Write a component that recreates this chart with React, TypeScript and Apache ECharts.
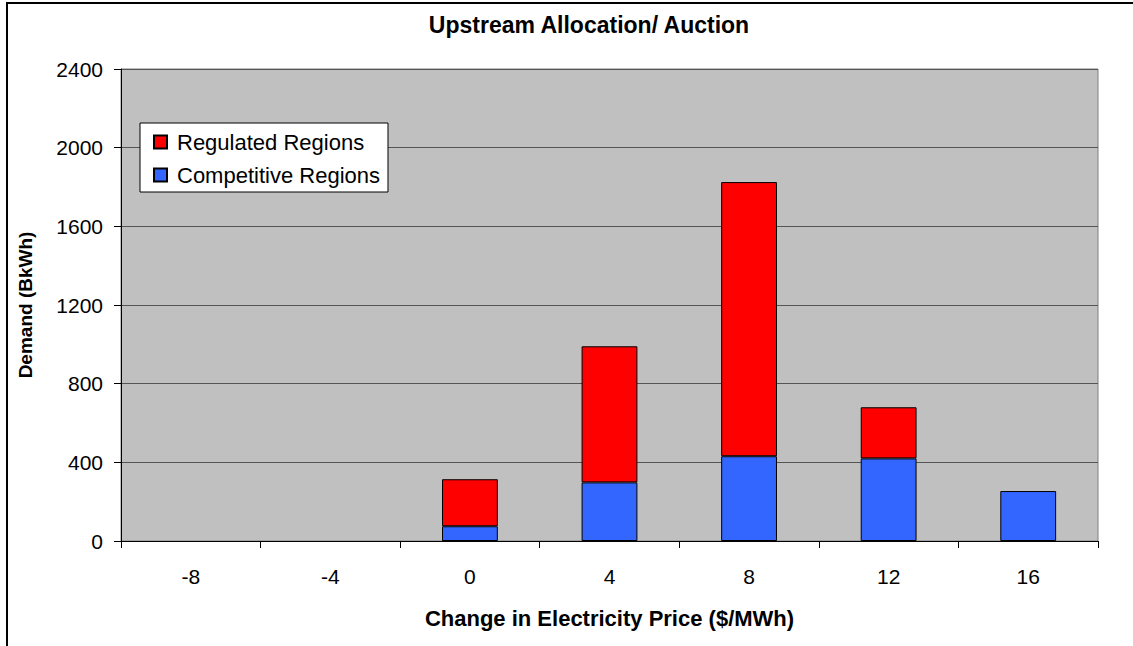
import React, { useEffect, useRef } from "react";
import * as echarts from "echarts";

const categories = ["-8", "-4", "0", "4", "8", "12", "16"];
const competitive = [null, null, 75, 298, 431, 420, 254];
const regulated = [null, null, 239, 692, 1394, 260, null];
const yTicks = { min: 0, max: 2400, interval: 400 };

const FONT = "'Liberation Sans', Arial, sans-serif";

export default function App() {
  const ref = useRef<HTMLDivElement>(null);
  useEffect(() => {
    if (!ref.current) return;
    const chart = echarts.init(ref.current, null, { renderer: "svg" });
    chart.setOption({
      animation: false,
      backgroundColor: "#ffffff",
      textStyle: { fontFamily: FONT },
      title: {
        text: "Upstream Allocation/ Auction",
        left: 589,
        top: 13,
        textAlign: "center",
        padding: 0,
        textStyle: { fontFamily: FONT, fontSize: 23, fontWeight: "bold", color: "#000" },
      },
      graphic: [
        {
          type: "rect",
          shape: { x: 7, y: 3, width: 1130, height: 700 },
          style: { fill: "none", stroke: "#000", lineWidth: 2 },
          silent: true,
        },
      ],
      legend: {
        data: ["Regulated Regions", "Competitive Regions"],
        orient: "vertical",
        left: 140,
        top: 123,
        backgroundColor: "#ffffff",
        borderColor: "#000000",
        borderWidth: 1,
        borderRadius: 0,
        padding: [8, 8, 6, 13],
        itemGap: 11,
        itemWidth: 13,
        itemHeight: 13,
        icon: "rect",
        textStyle: { fontFamily: FONT, fontSize: 22, color: "#000", padding: [0, 0, 0, 5] },
      },
      grid: {
        left: 121,
        top: 69,
        width: 977,
        height: 472,
        show: true,
        backgroundColor: "#C0C0C0",
        borderColor: "#808080",
        borderWidth: 1,
        containLabel: false,
      },
      xAxis: {
        type: "category",
        data: categories,
        boundaryGap: true,
        name: "Change in Electricity Price ($/MWh)",
        nameLocation: "middle",
        nameGap: 66,
        nameTextStyle: { fontFamily: FONT, fontSize: 22, fontWeight: "bold", color: "#000" },
        axisLine: { show: true, lineStyle: { color: "#000", width: 1 } },
        axisTick: { show: true, length: 7, inside: false, lineStyle: { color: "#000" } },
        axisLabel: { margin: 25, fontFamily: FONT, fontSize: 21, color: "#000" },
        splitLine: { show: false },
      },
      yAxis: {
        type: "value",
        min: yTicks.min,
        max: yTicks.max,
        interval: yTicks.interval,
        name: "Demand (BkWh)",
        nameLocation: "middle",
        nameGap: 86,
        nameTextStyle: { fontFamily: FONT, fontSize: 19, fontWeight: "bold", color: "#000" },
        axisLine: { show: true, lineStyle: { color: "#000", width: 1 } },
        axisTick: { show: true, length: 7, inside: false, lineStyle: { color: "#000" } },
        axisLabel: {
          margin: 18,
          fontFamily: FONT,
          fontSize: 21,
          color: "#000",
          formatter: (v: number) => String(v),
        },
        splitLine: { show: true, lineStyle: { color: "#555555", width: 1 } },
      },
      series: [
        {
          name: "Competitive Regions",
          type: "bar",
          stack: "total",
          data: competitive,
          barWidth: "40%",
          itemStyle: { color: "#3366FF", borderColor: "#000", borderWidth: 1 },
        },
        {
          name: "Regulated Regions",
          type: "bar",
          stack: "total",
          data: regulated,
          barWidth: "40%",
          itemStyle: { color: "#FF0000", borderColor: "#000", borderWidth: 1 },
        },
      ],
    });
    return () => chart.dispose();
  }, []);
  return <div ref={ref} style={{ width: 1133, height: 646, position: "absolute", left: 0, top: 0 }} />;
}
